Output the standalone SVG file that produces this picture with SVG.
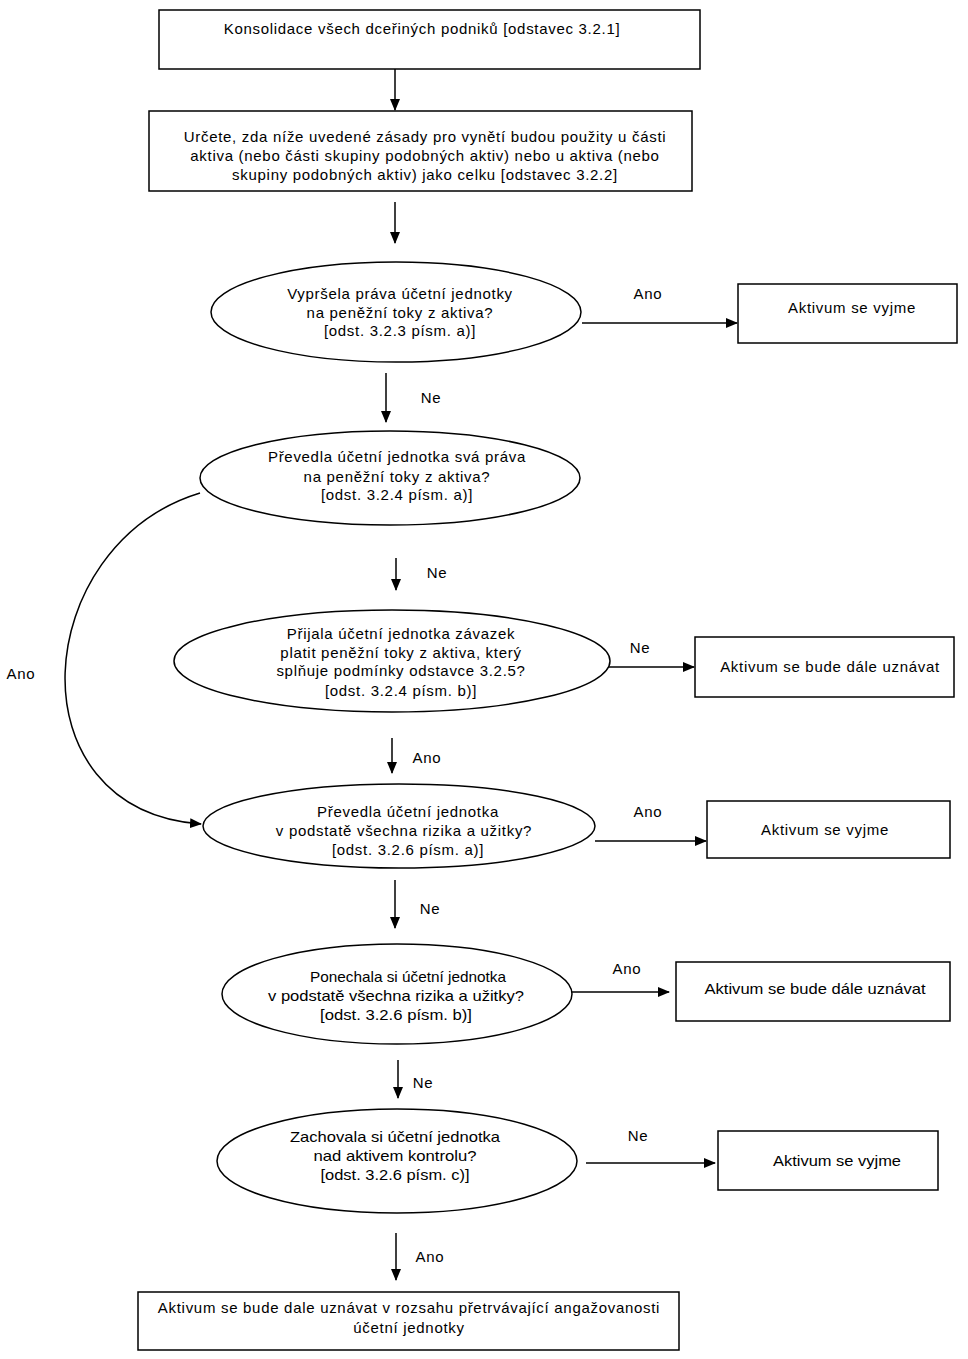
<svg xmlns="http://www.w3.org/2000/svg" width="968" height="1359" viewBox="0 0 968 1359">
<style>
.n{fill:#fff;stroke:#000;stroke-width:1.5}
.t{font-family:"Liberation Sans",Arial,sans-serif;font-size:15px;letter-spacing:0.7px;fill:#000;text-anchor:middle}
.k{letter-spacing:0}
.c{fill:none;stroke:#000;stroke-width:1.5}
</style>
<defs>
<marker id="ah" markerWidth="12" markerHeight="10" refX="11" refY="5" orient="auto" markerUnits="userSpaceOnUse">
<path d="M0,0 L12,5 L0,10 Z" fill="#000"/>
</marker>
</defs>
<rect width="968" height="1359" fill="#fff"/>
<g id="connectors">
<line class="c" x1="395" y1="69" x2="395" y2="110" marker-end="url(#ah)"/>
<line class="c" x1="395" y1="202" x2="395" y2="243" marker-end="url(#ah)"/>
<line class="c" x1="582" y1="323" x2="737" y2="323" marker-end="url(#ah)"/>
<line class="c" x1="386" y1="373" x2="386" y2="422" marker-end="url(#ah)"/>
<path class="c" d="M200,493 C30,545 10,810 201,824" marker-end="url(#ah)"/>
<line class="c" x1="396" y1="558" x2="396" y2="590" marker-end="url(#ah)"/>
<line class="c" x1="598" y1="667" x2="694" y2="667" marker-end="url(#ah)"/>
<line class="c" x1="392" y1="738" x2="392" y2="773" marker-end="url(#ah)"/>
<line class="c" x1="595" y1="841" x2="706" y2="841" marker-end="url(#ah)"/>
<line class="c" x1="395" y1="880" x2="395" y2="928" marker-end="url(#ah)"/>
<line class="c" x1="572" y1="992" x2="669" y2="992" marker-end="url(#ah)"/>
<line class="c" x1="398" y1="1060" x2="398" y2="1098" marker-end="url(#ah)"/>
<line class="c" x1="586" y1="1163" x2="715" y2="1163" marker-end="url(#ah)"/>
<line class="c" x1="396" y1="1233" x2="396" y2="1280" marker-end="url(#ah)"/>
<text class="t" x="648" y="299">Ano</text>
<text class="t" x="431" y="403">Ne</text>
<text class="t" x="21" y="679">Ano</text>
<text class="t" x="437" y="578">Ne</text>
<text class="t" x="640" y="653">Ne</text>
<text class="t" x="427" y="763">Ano</text>
<text class="t" x="648" y="817">Ano</text>
<text class="t" x="430" y="914">Ne</text>
<text class="t" x="627" y="974">Ano</text>
<text class="t" x="423" y="1088">Ne</text>
<text class="t" x="638" y="1141">Ne</text>
<text class="t" x="430" y="1262">Ano</text>
</g>
<g id="n1">
<rect class="n" x="159" y="10" width="541" height="59"/>
<text class="t" x="422" y="34">Konsolidace všech dceřiných podniků [odstavec 3.2.1]</text>
</g>
<g id="n2">
<rect class="n" x="149" y="111" width="543" height="80"/>
<text class="t" x="425" y="142">Určete, zda níže uvedené zásady pro vynětí budou použity u části</text>
<text class="t" x="425" y="161">aktiva (nebo části skupiny podobných aktiv) nebo u aktiva (nebo</text>
<text class="t" x="425" y="180">skupiny podobných aktiv) jako celku [odstavec 3.2.2]</text>
</g>
<g id="d1">
<ellipse class="n" cx="396" cy="312" rx="185" ry="50"/>
<text class="t" x="400" y="299">Vypršela práva účetní jednotky</text>
<text class="t" x="400" y="318">na peněžní toky z aktiva?</text>
<text class="t" x="400" y="336">[odst. 3.2.3 písm. a)]</text>
</g>
<g id="r1">
<rect class="n" x="738" y="284" width="219" height="59"/>
<text class="t" x="852" y="313">Aktivum se vyjme</text>
</g>
<g id="d2">
<ellipse class="n" cx="390" cy="478" rx="190" ry="47"/>
<text class="t" x="397" y="462">Převedla účetní jednotka svá práva</text>
<text class="t" x="397" y="482">na peněžní toky z aktiva?</text>
<text class="t" x="397" y="500">[odst. 3.2.4 písm. a)]</text>
</g>
<g id="d3">
<ellipse class="n" cx="392" cy="661" rx="218" ry="51"/>
<text class="t" x="401" y="639">Přijala účetní jednotka závazek</text>
<text class="t" x="401" y="658">platit peněžní toky z aktiva, který</text>
<text class="t" x="401" y="676">splňuje podmínky odstavce 3.2.5?</text>
<text class="t" x="401" y="696">[odst. 3.2.4 písm. b)]</text>
</g>
<g id="r2">
<rect class="n" x="695" y="637" width="259" height="60"/>
<text class="t" x="830" y="672">Aktivum se bude dále uznávat</text>
</g>
<g id="d4">
<ellipse class="n" cx="399" cy="826" rx="196" ry="42"/>
<text class="t" x="408" y="817">Převedla účetní jednotka</text>
<text class="t" x="404" y="836">v podstatě všechna rizika a užitky?</text>
<text class="t" x="408" y="855">[odst. 3.2.6 písm. a)]</text>
</g>
<g id="r3">
<rect class="n" x="707" y="801" width="243" height="57"/>
<text class="t" x="825" y="835">Aktivum se vyjme</text>
</g>
<g id="d5">
<ellipse class="n" cx="397" cy="994" rx="175" ry="50"/>
<text class="t k" x="408" y="982" textLength="196" lengthAdjust="spacingAndGlyphs">Ponechala si účetní jednotka</text>
<text class="t k" x="396" y="1001" textLength="256" lengthAdjust="spacingAndGlyphs">v podstatě všechna rizika a užitky?</text>
<text class="t k" x="396" y="1020" textLength="152" lengthAdjust="spacingAndGlyphs">[odst. 3.2.6 písm. b)]</text>
</g>
<g id="r4">
<rect class="n" x="676" y="962" width="274" height="59"/>
<text class="t k" x="815" y="994" textLength="221" lengthAdjust="spacingAndGlyphs">Aktivum se bude dále uznávat</text>
</g>
<g id="d6">
<ellipse class="n" cx="397" cy="1161" rx="180" ry="52"/>
<text class="t k" x="395" y="1142" textLength="210" lengthAdjust="spacingAndGlyphs">Zachovala si účetní jednotka</text>
<text class="t k" x="395" y="1161" textLength="163" lengthAdjust="spacingAndGlyphs">nad aktivem kontrolu?</text>
<text class="t k" x="395" y="1180" textLength="149" lengthAdjust="spacingAndGlyphs">[odst. 3.2.6 písm. c)]</text>
</g>
<g id="r5">
<rect class="n" x="718" y="1131" width="220" height="59"/>
<text class="t k" x="837" y="1166" textLength="128" lengthAdjust="spacingAndGlyphs">Aktivum se vyjme</text>
</g>
<g id="n3">
<rect class="n" x="138" y="1292" width="541" height="58"/>
<text class="t" x="409" y="1313">Aktivum se bude dale uznávat v rozsahu přetrvávající angažovanosti</text>
<text class="t" x="409" y="1333">účetní jednotky</text>
</g>
</svg>
